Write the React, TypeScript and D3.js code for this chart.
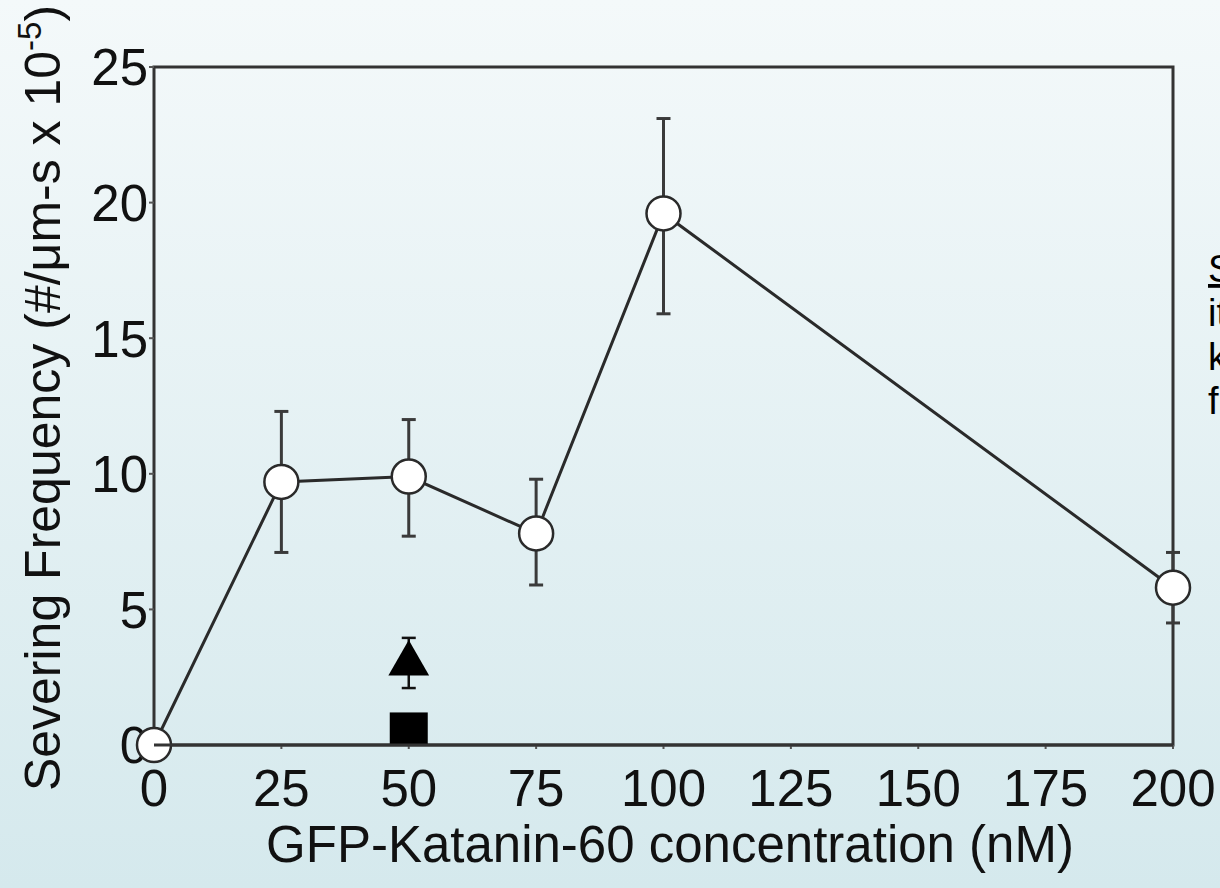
import React from 'react';
import * as d3 from 'd3';

// concentration (nM) and severing frequency (#/um-s x 10^-5)
const concentrations = [0, 25, 50, 75, 100, 200];
const frequency = [0, 9.7, 9.9, 7.8, 19.6, 5.8];
const errLow = [null, 7.1, 7.7, 5.9, 15.9, 4.5];
const errHigh = [null, 12.3, 12.0, 9.8, 23.1, 7.1];

// control points at 50 nM
const triangleX = 50;
const triangleY = 3.0;
const triangleErr = [2.1, 3.95];
const squareX = 50;
const squareY = 0.5;

const xTicks = [0, 25, 50, 75, 100, 125, 150, 175, 200];
const yTicks = [0, 5, 10, 15, 20, 25];

const sideText = ['S', 'it', 'k', 'f'];

const W = 1220;
const H = 888;
const font = '"Liberation Sans", Arial, Helvetica, sans-serif';

export default function App() {
  const left = 154, right = 1173, top = 67, bottom = 745;
  const x = d3.scaleLinear().domain([0, 200]).range([left, right]);
  const y = d3.scaleLinear().domain([0, 25]).range([bottom, top]);

  const pts = concentrations.map((c, i) => [c, frequency[i]] as [number, number]);
  const line = d3.line<[number, number]>().x(d => x(d[0])).y(d => y(d[1]));

  const cap = 7;
  const triSym = d3.symbol().type(d3.symbolTriangle).size(720)();

  return (
    <svg width={W} height={H} style={{ position: 'fixed', left: 0, top: 0 }}>
      <defs>
        <linearGradient id="bg" x1="0" y1="0" x2="0" y2="1">
          <stop offset="0" stopColor="#f4f9fa" />
          <stop offset="1" stopColor="#d5e9ed" />
        </linearGradient>
        <clipPath id="plot">
          <rect x={left} y={top} width={right - left} height={bottom - top} />
        </clipPath>
      </defs>
      <rect width={W} height={H} fill="url(#bg)" />

      {/* frame */}
      <rect x={left} y={top} width={right - left} height={bottom - top}
        fill="none" stroke="#333" strokeWidth={3} />

      {/* y ticks */}
      {yTicks.map(t => (
        <g key={'y' + t}>
          <line x1={left - 5} x2={left} y1={y(t)} y2={y(t)} stroke="#555" strokeWidth={2} />
          <text x={left - 6} y={y(t)} dy="0.36em" textAnchor="end"
            fontFamily={font} fontSize={51} fill="#111">{t}</text>
        </g>
      ))}

      {/* x ticks */}
      {xTicks.map(t => (
        <g key={'x' + t}>
          <line x1={x(t)} x2={x(t)} y1={bottom} y2={bottom + 4} stroke="#555" strokeWidth={2} />
          <text x={x(t)} y={bottom + 61} textAnchor="middle"
            fontFamily={font} fontSize={51} fill="#111">{t}</text>
        </g>
      ))}

      {/* axis titles */}
      <text x={670} y={862} textAnchor="middle" fontFamily={font} fontSize={51} fill="#111">
        GFP-Katanin-60 concentration (nM)
      </text>
      <text transform="translate(60,398) rotate(-90)" textAnchor="middle"
        fontFamily={font} fontSize={50} fill="#111">
        Severing Frequency (#/μm-s x 10<tspan dy={-19} fontSize={33}>-5</tspan><tspan dy={19}>)</tspan>
      </text>

      {/* error bars */}
      {concentrations.map((c, i) => errLow[i] == null ? null : (
        <g key={'e' + c} stroke="#3a3a3a" strokeWidth={3}>
          <line x1={x(c)} x2={x(c)} y1={y(errLow[i] as number)} y2={y(errHigh[i] as number)} />
          <line x1={x(c) - cap} x2={x(c) + cap} y1={y(errLow[i] as number)} y2={y(errLow[i] as number)} />
          <line x1={x(c) - cap} x2={x(c) + cap} y1={y(errHigh[i] as number)} y2={y(errHigh[i] as number)} />
        </g>
      ))}

      {/* connecting line */}
      <path d={line(pts) || ''} fill="none" stroke="#2a2a2a" strokeWidth={3} />

      {/* open circles */}
      {pts.map(p => (
        <circle key={'c' + p[0]} cx={x(p[0])} cy={y(p[1])} r={17}
          fill="#ffffff" stroke="#2a2a2a" strokeWidth={2.5} />
      ))}

      {/* triangle with error bar */}
      <g stroke="#111" strokeWidth={2.5}>
        <line x1={x(triangleX)} x2={x(triangleX)} y1={y(triangleErr[0])} y2={y(triangleErr[1])} />
        <line x1={x(triangleX) - cap} x2={x(triangleX) + cap} y1={y(triangleErr[0])} y2={y(triangleErr[0])} />
        <line x1={x(triangleX) - cap} x2={x(triangleX) + cap} y1={y(triangleErr[1])} y2={y(triangleErr[1])} />
      </g>
      <path d={triSym || ''} transform={`translate(${x(triangleX)},${y(triangleY)})`} fill="#000" />

      {/* filled square */}
      <g clipPath="url(#plot)">
        <rect x={x(squareX) - 19} y={y(squareY) - 19} width={38} height={38} fill="#000" />
      </g>
      <line x1={left} x2={right} y1={bottom} y2={bottom} stroke="#333" strokeWidth={3} />

      {/* side text, cut by the page edge as in the source figure */}
      {sideText.map((s, i) => (
        <text key={'s' + i} x={1208} y={282 + i * 44} fontFamily={font} fontSize={38} fill="#000"
          textDecoration={i === 0 ? 'underline' : undefined}>{s}</text>
      ))}
    </svg>
  );
}
